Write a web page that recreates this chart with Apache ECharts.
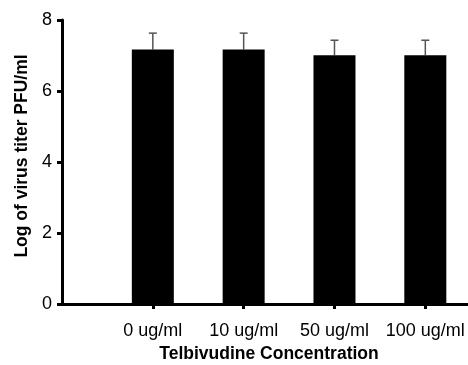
<!DOCTYPE html>
<html>
<head>
<meta charset="utf-8">
<script src="https://cdn.jsdelivr.net/npm/echarts@6/dist/echarts.min.js"></script>
<style>
  html, body { margin: 0; padding: 0; background: #fff; }
  #chart { width: 468px; height: 365px; }
</style>
</head>
<body>
<div id="chart"></div>
<script>
// 数据
const categories = ['0 ug/ml', '10 ug/ml', '50 ug/ml', '100 ug/ml'];
const positions = [1, 2, 3, 4];
const titerMean = [7.17, 7.17, 7.01, 7.01];
const titerErr = [0.46, 0.46, 0.42, 0.42];
const yTicks = [0, 2, 4, 6, 8];

const myChart = echarts.init(document.getElementById('chart'));

const barData = positions.map((p, i) => [p, titerMean[i]]);
const errData = positions.map((p, i) => [p, titerMean[i], titerMean[i] + titerErr[i]]);

const font = '"Liberation Sans", Arial, sans-serif';

let option = {
  animation: false,
  grid: { left: 62, right: 0, top: 20, bottom: 61, containLabel: false, outerBoundsMode: 'none' },
  xAxis: {
    type: 'value',
    min: 0,
    max: 4.47,
    interval: 1,
    splitLine: { show: false },
    axisLine: { lineStyle: { color: '#000', width: 3 } },
    axisTick: {
      show: true,
      customValues: positions,
      length: 5,
      lineStyle: { color: '#000', width: 3 }
    },
    axisLabel: {
      customValues: positions,
      margin: 18,
      color: '#000',
      fontSize: 18,
      fontFamily: font,
      formatter: function (v) {
        const idx = positions.indexOf(v);
        return idx >= 0 ? categories[idx] : '';
      }
    },
    name: 'Telbivudine Concentration',
    nameLocation: 'middle',
    nameGap: 40,
    nameTextStyle: {
      color: '#000', fontSize: 17.5, fontWeight: 'bold', fontFamily: font,
      padding: [0, 0, 0, 8]
    }
  },
  yAxis: {
    type: 'value',
    min: 0,
    max: 8,
    interval: 2,
    splitLine: { show: false },
    axisLine: { show: true, onZero: false, lineStyle: { color: '#000', width: 3 } },
    axisTick: { show: true, length: 5, lineStyle: { color: '#000', width: 3 } },
    axisLabel: {
      margin: 10,
      color: '#000',
      fontSize: 18,
      fontFamily: font,
      formatter: v => (yTicks.indexOf(v) >= 0 ? String(v) : '')
    },
    name: 'Log of virus titer PFU/ml',
    nameLocation: 'middle',
    nameGap: 27,
    nameTextStyle: {
      color: '#000', fontSize: 17.5, fontWeight: 'bold', fontFamily: font,
      padding: [0, 0, 0, 12]
    }
  },
  series: [
    {
      // 误差线
      type: 'custom',
      z: 1,
      data: errData,
      renderItem: function (params, api) {
        const x = api.value(0);
        const low = api.coord([x, api.value(1)]);
        const high = api.coord([x, api.value(2)]);
        const half = 4;
        const style = { stroke: '#555', lineWidth: 1.5 };
        return {
          type: 'group',
          children: [
            { type: 'line', shape: { x1: low[0], y1: low[1], x2: high[0], y2: high[1] }, style: style },
            { type: 'line', shape: { x1: high[0] - half, y1: high[1], x2: high[0] + half, y2: high[1] }, style: style }
          ]
        };
      }
    },
    {
      type: 'bar',
      z: 2,
      barWidth: 42,
      data: barData,
      itemStyle: { color: '#000' }
    }
  ]
};

option && myChart.setOption(option);
</script>
</body>
</html>
